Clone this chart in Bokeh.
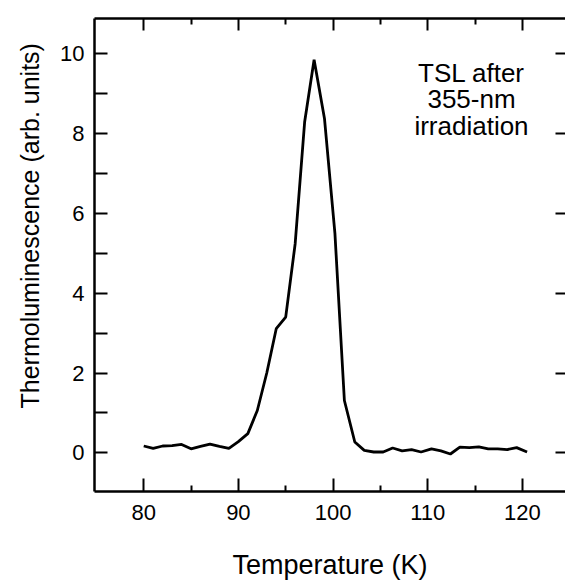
import math
from bokeh.plotting import figure
from bokeh.models import Range1d, LinearAxis, FixedTicker, Label, Title
from bokeh.embed import file_html
from bokeh.resources import INLINE

# Temperature (K) of each sample
temperature = [80, 81, 82, 83, 84, 85, 86, 87, 88, 89,
               90, 91, 92, 93, 94, 95, 96, 97, 98, 99.1,
               100.2, 101.2, 102.3, 103.3, 104.3, 105.3, 106.3, 107.3, 108.3, 109.3,
               110.4, 111.4, 112.4, 113.4, 114.4, 115.4, 116.4, 117.4, 118.4, 119.4,
               120.5]
# Thermoluminescence (arb. units)
tsl = [0.17, 0.11, 0.17, 0.18, 0.21, 0.10, 0.16, 0.22, 0.16, 0.11,
       0.28, 0.48, 1.06, 2.00, 3.11, 3.40, 5.24, 8.29, 9.85, 8.37,
       5.50, 1.31, 0.27, 0.06, 0.02, 0.02, 0.12, 0.05, 0.08, 0.02,
       0.10, 0.05, -0.03, 0.14, 0.13, 0.15, 0.10, 0.10, 0.08, 0.13,
       0.02]

x_major = [80, 90, 100, 110, 120]
x_minor = [85, 95, 105, 115]
y_major = [0, 2, 4, 6, 8, 10]
y_minor = [1, 3, 5, 7, 9]

x_title = "Temperature (K)"
y_title = "Thermoluminescence (arb. units)"
note_lines = ["TSL after", "355-nm", "irradiation"]

FONT = "Liberation Sans"

p = figure(width=565, height=582,
           x_range=Range1d(74.8, 124.56), y_range=Range1d(-0.97, 10.885),
           output_backend="svg", toolbar_location=None,
           x_axis_location=None, y_axis_location=None,
           min_border_left=93, min_border_right=0,
           min_border_top=18, min_border_bottom=91)
p.outline_line_color = None
p.background_fill_color = "white"
p.border_fill_color = "white"
p.xgrid.grid_line_color = None
p.ygrid.grid_line_color = None

def make_axis(major, minor, tick_in, minor_in, labels=True, line=True, standoff=12):
    ax = LinearAxis(ticker=FixedTicker(ticks=major, minor_ticks=minor))
    ax.major_tick_in = tick_in
    ax.major_tick_out = 0
    ax.minor_tick_in = minor_in
    ax.minor_tick_out = 0
    ax.major_tick_line_width = 2
    ax.minor_tick_line_width = 2
    ax.major_tick_line_color = "black"
    ax.minor_tick_line_color = "black" if minor_in > 0 else None
    if line:
        ax.axis_line_width = 2.5
        ax.axis_line_color = "black"
    else:
        ax.axis_line_color = None
    if labels:
        ax.major_label_text_font = FONT
        ax.major_label_text_font_size = "22px"
        ax.major_label_text_color = "black"
        ax.major_label_standoff = standoff
    else:
        ax.major_label_text_font_size = "0px"
        ax.major_label_standoff = 0
        ax.major_label_text_color = None
    return ax

xb = make_axis(x_major, x_minor, 13, 6, labels=True, standoff=13)
xb.axis_label = x_title
xb.axis_label_text_font = FONT
xb.axis_label_text_font_size = "27px"
xb.axis_label_text_font_style = "normal"
xb.axis_label_text_color = "black"
xb.axis_label_standoff = 27
p.add_layout(xb, "below")
p.add_layout(make_axis(x_major, x_minor, 12, 6, labels=False), "above")
p.add_layout(make_axis(y_major, y_minor, 13, 13, labels=True, standoff=10), "left")
p.add_layout(make_axis(y_major, [], 10, 0, labels=False, line=False), "right")

p.add_layout(Title(text=y_title, align="left", offset=83, standoff=27,
                   text_font=FONT, text_font_size="25px", text_font_style="normal",
                   text_color="black"), "left")

p.line(temperature, tsl, line_width=2.8, line_color="black")

for i, line_text in enumerate(note_lines):
    p.add_layout(Label(x=377, y=419 - 26.5 * i, x_units="screen", y_units="screen",
                       text=line_text, text_font=FONT, text_font_size="26px",
                       text_color="black", text_align="center",
                       text_baseline="alphabetic"))

open("out.html", "w").write(file_html(p, INLINE))
